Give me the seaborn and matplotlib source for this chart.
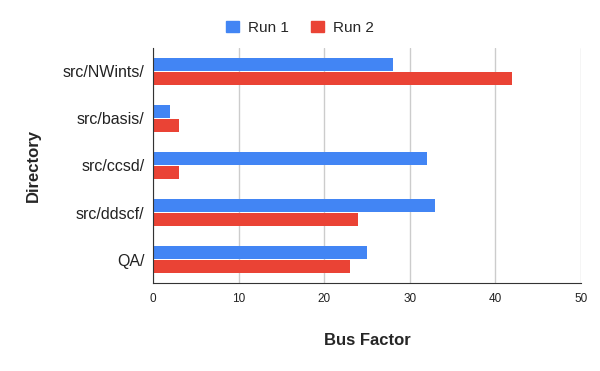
import seaborn as sns
import pandas as pd
import matplotlib.pyplot as plt

directories = ["src/NWints/", "src/basis/", "src/ccsd/", "src/ddscf/", "QA/"]
run1 = [28, 2, 32, 33, 25]
run2 = [42, 3, 3, 24, 23]
runs = ["Run 1", "Run 2"]
colors = ["#4285F4", "#EA4335"]

df = pd.DataFrame({
    "Directory": directories * 2,
    "Bus Factor": run1 + run2,
    "Run": [runs[0]] * len(run1) + [runs[1]] * len(run2),
})

sns.set_style("white")
plt.rcParams["font.family"] = ["Liberation Sans", "DejaVu Sans"]

fig = plt.figure(figsize=(6, 3.71), dpi=100)
ax = fig.add_axes([0.255, 0.237, 0.713, 0.634])

sns.barplot(data=df, y="Directory", x="Bus Factor", hue="Run", palette=colors,
            orient="h", width=0.6, gap=0.08, saturation=1, linewidth=0,
            ax=ax, legend=False)

ax.set_xlim(0, 50)
ax.set_xticks([0, 10, 20, 30, 40, 50])
ax.grid(True, axis="x", color="#cccccc", linewidth=1)
ax.set_axisbelow(True)
for s in ["top", "right"]:
    ax.spines[s].set_visible(False)
ax.spines["left"].set_color("#333333")
ax.spines["bottom"].set_color("#333333")
ax.tick_params(axis="y", labelsize=11.5, length=0, pad=6, colors="#222222")
ax.tick_params(axis="x", labelsize=8.5, length=0, pad=7, colors="#222222")
ax.set_xlabel("Bus Factor", fontsize=12, fontweight="bold", labelpad=20)
ax.set_ylabel("Directory", fontsize=12, fontweight="bold", labelpad=16)

handles = [plt.Rectangle((0, 0), 1, 1, color=c) for c in colors]
fig.legend(handles, runs, loc="center", bbox_to_anchor=(0.5, 0.925), ncol=2,
           frameon=False, fontsize=11, handlelength=0.8, handleheight=0.8,
           columnspacing=1.5, handletextpad=0.6)

fig.savefig("out.png", dpi=100)
